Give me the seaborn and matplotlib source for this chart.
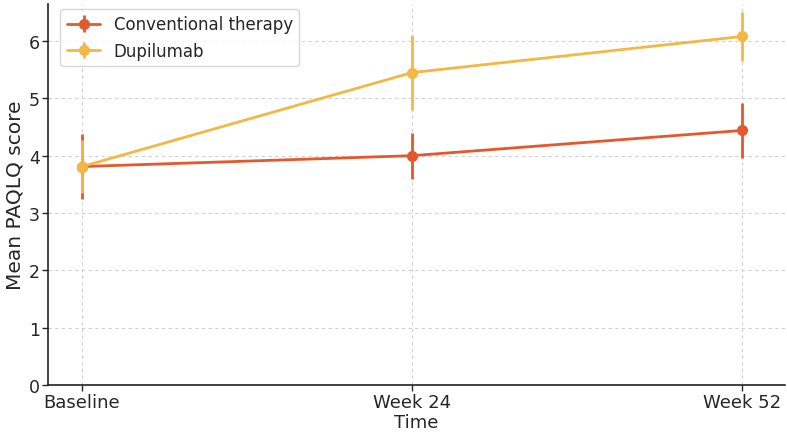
import numpy as np
import pandas as pd
import matplotlib
matplotlib.use('Agg')
import matplotlib.pyplot as plt
import seaborn as sns

sns.set_style("white")
plt.rcParams['font.family'] = ['DejaVu Sans']

timepoints = ['Baseline', 'Week 24', 'Week 52']
conventional_mean = [3.81, 4.00, 4.44]
conventional_err = [0.56, 0.40, 0.48]
dupilumab_mean = [3.81, 5.45, 6.08]
dupilumab_err = [0.47, 0.66, 0.42]

groups = {
    'Conventional therapy': (conventional_mean, conventional_err, '#E4582A'),
    'Dupilumab': (dupilumab_mean, dupilumab_err, '#F3B843'),
}

fig = plt.figure(figsize=(7.87, 4.39), dpi=100)
ax = fig.add_axes([0.061, 0.121, 0.936, 0.868])

x = np.arange(len(timepoints))
for name, (mean, err, color) in groups.items():
    ax.errorbar(x, mean, yerr=err, label=name, color=color, marker='o',
                markersize=7, linewidth=2, elinewidth=2, capsize=0)

ax.set_xticks(x)
ax.set_xticklabels(timepoints, fontsize=13)
ax.set_xlim(-0.103, 2.13)
ax.set_ylim(0, 6.65)
ax.set_yticks(range(0, 7))
ax.tick_params(axis='y', labelsize=12.5)
ax.tick_params(axis='both', direction='out', length=4, width=1, bottom=True, left=True, pad=2)
ax.set_xlabel('Time', fontsize=13, labelpad=1)
ax.set_ylabel('Mean PAQLQ score', fontsize=14.5, labelpad=3)
ax.grid(True, linestyle=(0, (3, 3)), color='#d0d0d0', linewidth=0.8)
sns.despine(ax=ax)
for s in ['left', 'bottom']:
    ax.spines[s].set_color('#222222')
    ax.spines[s].set_linewidth(1.2)

ax.legend(loc='upper left', fontsize=12, frameon=True, borderaxespad=0.3,
          bbox_to_anchor=(0.01, 1.0))

fig.savefig('out.png', dpi=100)
